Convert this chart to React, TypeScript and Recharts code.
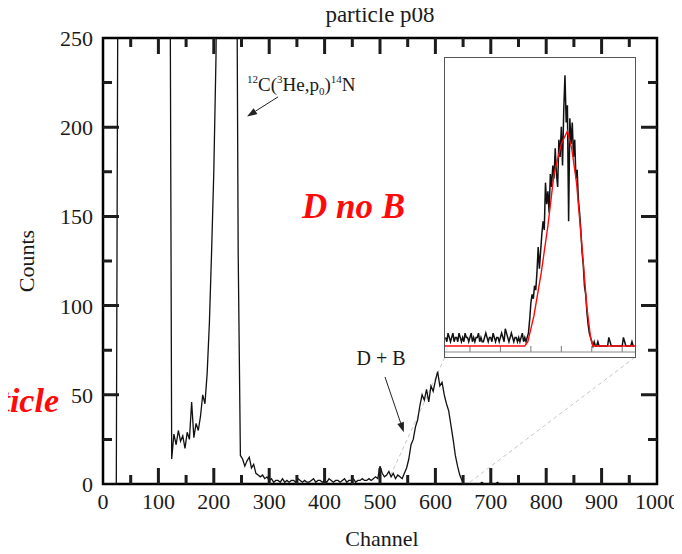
import { LineChart, Line, XAxis, YAxis, ReferenceLine, ReferenceArea } from 'recharts';

const SERIF = '"Liberation Serif", "Times New Roman", serif';
const RED = '#ff0a0a';
const INK = '#000';

// main spectrum: one value per 4 channels, 0..1000 (400 = off scale)
const CH_STEP = 4;
const COUNTS = [
  0, 0, 0, 0, 0, 0, 0, // 0-24
  400, 400, 400, 400, 400, 400, 400, 400, 400, 400, 400, 400, // 28-72
  400, 400, 400, 400, 400, 400, 400, 400, 400, 400, 400, 400, // 76-120
  14, 28, 22, 30, 24, 27, 20, 29, 25, 46, 26, 34, 30, 38, 50, 45, 62, 90, 130, 175, 240, // 124-204
  400, 400, 400, 400, 400, 400, 400, 400, 400, // 208-240
  130, 16, // 244-248
  14, 10, 13, 15, 9, 11, 6, 5, 4, 5, 3, 4, 2, // 252-300
  3, 1, 2, 2, 1, 3, 1, 2, 1, 2, 2, 1, 3, 2, 1, 2, 1, 1, 2, 3, 1, 2, 2, 1, 2,
  1, 3, 2, 1, 2, 2, 1, 2, 3, 1, 2, 2, 3, 1, 2, 2, 3, 2, 2, 3, 2, 3, 4, 3, // 304-496
  10, 6, 4, 5, 7, 4, 6, 3, 5, 4, 3, // 500-540
  6, 9, 14, 22, 25, 32, 36, 44, 50, 47, 53, 46, 55, 52, 58, 63, 55, 57, 50, 45, 41, 33, 25, 16, 10, 5, 2, // 544-648
  0, 0, 0, 0, 0, 0, 0, 0, 1, 0, 0,
  0, 1, 0, 0, 1, 0, 0, 0, 0, 0, 0,
  0, 0, 0, 0, 0, 0, 0, 0, 0, 0, 0,
  0, 0, 0, 0, 0, 0, 0, 0, 0, 0, 0,
  0, 0, 0, 0, 0, 0, 0, 0, 0, 0, 0,
  0, 0, 0, 0, 0, 0, 0, 0, 0, 0, 0,
  0, 0, 0, 0, 0, 0, 0, 0, 0, 0, 0,
  0, 0, 0, 0, 0, 0, 0, 0, 0, 0, 0, // 652-1000
];

const X_TICKS = [0, 50, 100, 150, 200, 250, 300, 350, 400, 450, 500, 550, 600, 650, 700, 750, 800, 850, 900, 950, 1000];
const Y_TICKS = [0, 25, 50, 75, 100, 125, 150, 175, 200, 225, 250];

// inset: D+B peak, one value per 2 channels from 410
const INSET_START = 410;
const INSET_STEP = 2;
const INSET_COUNTS = [
  2, 1, 3, 2, 1, 2, 3, 1, 2, 2, 1, 3, 2, 1, 2, 1, 3, 2, 2, 1, 2, 3, 1, 2, 1, 2, 2, 3, 1, 2, 1, 1, 2, 3,
  2, 1, 2, 2, 1, 3, 2, 1, 2, 2, 1, 2, 3, 2, 1, 4, 3, 2, 1, 2, 3, 2, 1, 2, 2, 1, 2, 1, 2, 3, 1, 2, 1, 2, // 410-544
  3, 6, 10, 12, 11, 14, 13, 17, 23, 18, 22, 26, 29, 27, 38, 33, 36, 31, 40, 37, 42, 39, 46, 40, 37, 48,
  44, 51, 42, 55, 63, 52, 56, 29, 53, 47, 52, 44, 48, 39, 41, 34, 31, 27, 22, 19, 14, 12, 8, 5, 3, 2, 1, // 546-650
  0, 1, 0, 0, 1, 0, 0, 0, 0, 0, 0, 0, 0, 2, 1, 0, 0, 0, 0, 0, 0, 0, 0, 0, 0, 2, 1, 0, 0, 0, 0, 0, 1, 0, 0, // 652-720
];
const FIT_CH = [409, 540, 545, 555, 567, 578, 588, 600, 610, 617, 625, 634, 642, 648, 652, 721];
const FIT_VAL = [0, 0, 1, 7, 17, 28, 40, 47, 50, 46, 38, 23, 9, 2, 0, 0];
const INSET_TICKS = [450, 500, 550, 600, 650, 700];

// annotation geometry in data units (channel, counts)
const CONNECTORS = [
  [{ x: 617, y: 71 }, { x: 518, y: 4 }],
  [{ x: 960, y: 71 }, { x: 662, y: 1 }],
];
const ARROWS = [
  [{ x: 316, y: 217 }, { x: 260, y: 206 }],
  [{ x: 509, y: 60 }, { x: 543, y: 29 }],
];

const mainData = COUNTS.map((c, i) => ({ ch: i * CH_STEP, c }));
const insetData = INSET_COUNTS.map((c, i) => ({ ch: INSET_START + i * INSET_STEP, c }));
const fitData = FIT_CH.map((ch, i) => ({ ch, f: FIT_VAL[i] }));

const BottomLabel = (p: any) =>
  p.payload.value % 100 === 0 ? (
    <text x={p.x} y={p.y + 25} textAnchor="middle" fontSize={22} fontFamily={SERIF} fill="#1a1a1a">
      {p.payload.value}
    </text>
  ) : <g />;

const LeftLabel = (p: any) =>
  p.payload.value % 50 === 0 ? (
    <text x={p.x - 10} y={p.y + 8} textAnchor="end" fontSize={22} fontFamily={SERIF} fill="#1a1a1a">
      {p.payload.value}
    </text>
  ) : <g />;

// inward tick marks on both ends of a reference line
const xMark = (len: number) => (p: any) => {
  const lo = Math.max(p.y1, p.y2);
  const hi = Math.min(p.y1, p.y2);
  return (
    <path d={`M${p.x1},${lo}V${lo - len}M${p.x1},${hi}V${hi + len}`} stroke="#1c1c1c" strokeWidth={3} fill="none" />
  );
};
const yMark = (len: number) => (p: any) => {
  const l = Math.min(p.x1, p.x2);
  const r = Math.max(p.x1, p.x2);
  return (
    <path d={`M${l},${p.y1}H${l + len}M${r},${p.y1}H${r - len}`} stroke="#1c1c1c" strokeWidth={3} fill="none" />
  );
};
const insetMark = (p: any) => {
  const lo = Math.max(p.y1, p.y2);
  return <path d={`M${p.x1},${lo}V${lo - 6}`} stroke="#777" strokeWidth={1} fill="none" />;
};

const Arrow = (p: any) => {
  const { x1, y1, x2, y2 } = p;
  const a = Math.atan2(y2 - y1, x2 - x1);
  const bx = x2 - 10 * Math.cos(a);
  const by = y2 - 10 * Math.sin(a);
  const nx = 3.5 * Math.sin(a);
  const ny = 3.5 * Math.cos(a);
  return (
    <g>
      <line x1={x1} y1={y1} x2={bx} y2={by} stroke="#222" strokeWidth={1} />
      <polygon points={`${x2},${y2} ${bx + nx},${by - ny} ${bx - nx},${by + ny}`} fill="#222" />
    </g>
  );
};

export default function App() {
  return (
    <div style={{ position: 'relative', width: 682, height: 554, margin: -8, background: '#fff' }}>
      <LineChart width={682} height={554} data={mainData} margin={{ top: 38, right: 25, bottom: 0, left: 0 }}>
        <XAxis xAxisId="b" type="number" dataKey="ch" domain={[0, 1000]} ticks={X_TICKS}
          interval={0} height={70} tickSize={0} tickMargin={0} tickLine={false} axisLine={false} tick={<BottomLabel />} />
        <YAxis yAxisId="l" type="number" domain={[0, 250]} ticks={Y_TICKS} allowDataOverflow
          interval={0} width={103} tickSize={0} tickMargin={0} tickLine={false} axisLine={false} tick={<LeftLabel />} />
        {CONNECTORS.map((seg, i) => (
          <ReferenceLine key={`c${i}`} xAxisId="b" yAxisId="l" segment={seg} stroke="#c8c8c8"
            strokeWidth={1} strokeDasharray="4 3" ifOverflow="visible" />
        ))}
        <Line xAxisId="b" yAxisId="l" dataKey="c" type="linear" stroke="#111" strokeWidth={1.3}
          dot={false} isAnimationActive={false} />
        {X_TICKS.slice(1, -1).map((v) => (
          <ReferenceLine key={`x${v}`} xAxisId="b" yAxisId="l" x={v} ifOverflow="visible"
            shape={xMark(v % 100 === 0 ? 16 : 9)} />
        ))}
        {Y_TICKS.slice(1, -1).map((v) => (
          <ReferenceLine key={`y${v}`} xAxisId="b" yAxisId="l" y={v} ifOverflow="visible"
            shape={yMark(v % 50 === 0 ? 16 : 9)} />
        ))}
        <ReferenceArea xAxisId="b" yAxisId="l" x1={0} x2={1000} y1={0} y2={250} fill="none" fillOpacity={0}
          stroke={INK} strokeWidth={2.5} ifOverflow="visible" />
        {ARROWS.map((seg, i) => (
          <ReferenceLine key={`a${i}`} xAxisId="b" yAxisId="l" segment={seg} ifOverflow="visible" shape={Arrow} />
        ))}
      </LineChart>

      <div style={{ position: 'absolute', left: 444, top: 57, width: 190, height: 299, border: '1px solid #555', background: '#fff' }}>
        <LineChart width={190} height={299} data={insetData} margin={{ top: 0, right: 0, bottom: 0, left: 0 }}>
          <XAxis type="number" dataKey="ch" domain={[409, 721]} ticks={INSET_TICKS} interval={0} height={5}
            tickSize={0} tickMargin={0} tickLine={false} tick={false} axisLine={{ stroke: '#888', strokeWidth: 1 }} />
          <YAxis hide type="number" domain={[-1.4, 67]} allowDataOverflow />
          {INSET_TICKS.map((v) => (
            <ReferenceLine key={`i${v}`} x={v} shape={insetMark} />
          ))}
          <Line dataKey="c" type="linear" stroke="#111" strokeWidth={1.5} dot={false} isAnimationActive={false} />
          <Line data={fitData} dataKey="f" type="linear" stroke={RED} strokeWidth={1.4} dot={false} isAnimationActive={false} />
        </LineChart>
      </div>

      <svg width={682} height={554} style={{ position: 'absolute', left: 0, top: 0, pointerEvents: 'none' }}>
        <text x={380} y={22} textAnchor="middle" fontSize={23} fontFamily={SERIF} fill="#1a1a1a">particle p08</text>
        <text x={382} y={546} textAnchor="middle" fontSize={22} fontFamily={SERIF} fill="#1a1a1a">Channel</text>
        <text x={34} y={261} textAnchor="middle" fontSize={22} fontFamily={SERIF} fill="#1a1a1a"
          transform="rotate(-90 34 261)">Counts</text>
        <text x={247} y={91} fontSize={19} fontFamily={SERIF} fill="#1a1a1a">
          <tspan fontSize={11} dy={-8}>12</tspan>
          <tspan dy={8}>C(</tspan>
          <tspan fontSize={11} dy={-8}>3</tspan>
          <tspan dy={8}>He,p</tspan>
          <tspan fontSize={11} dy={4}>0</tspan>
          <tspan dy={-4}>)</tspan>
          <tspan fontSize={11} dy={-8}>14</tspan>
          <tspan dy={8}>N</tspan>
        </text>
        <text x={381} y={365} textAnchor="middle" fontSize={20} fontFamily={SERIF} fill="#1a1a1a">D + B</text>
        <text x={302} y={218} fontSize={35} fontWeight="bold" fontStyle="italic" fontFamily={SERIF} fill={RED}>D no B</text>
        <text x={59} y={412} textAnchor="end" fontSize={34} fontWeight="bold" fontStyle="italic" fontFamily={SERIF} fill={RED}>particle</text>
      </svg>
    </div>
  );
}
